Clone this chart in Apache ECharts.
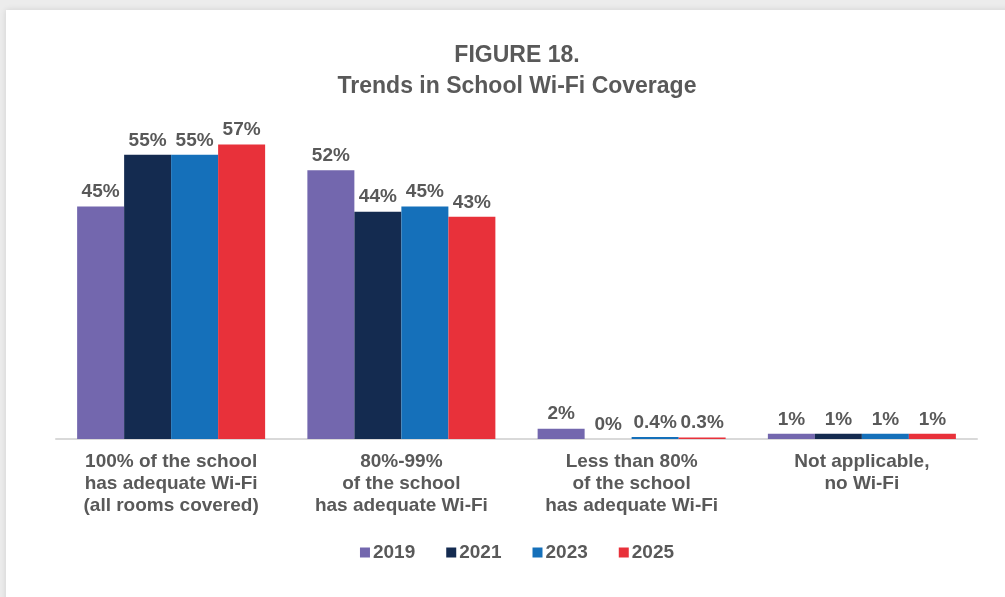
<!DOCTYPE html>
<html>
<head>
<meta charset="utf-8">
<script src="https://cdn.jsdelivr.net/npm/echarts@6/dist/echarts.min.js"></script>
<style>
  html, body { margin: 0; padding: 0; width: 1005px; height: 597px; overflow: hidden; background: #ececec; }
  .card { position: absolute; left: 6px; top: 10px; width: 1100px; height: 700px; background: #fff; box-shadow: 0 0 6px rgba(0,0,0,0.12); }
  #chart { position: absolute; left: 6px; top: 0; width: 1022px; height: 597px; }
</style>
</head>
<body>
<div class="card"></div>
<div id="chart"></div>
<script>
// categories and series values (percent)
var categories = [
  '100% of the school\nhas adequate Wi-Fi\n(all rooms covered)',
  '80%-99%\nof the school\nhas adequate Wi-Fi',
  'Less than 80%\nof the school\nhas adequate Wi-Fi',
  'Not applicable,\nno Wi-Fi'
];
var years = ['2019', '2021', '2023', '2025'];
var v2019 = [45, 52, 2, 1];
var v2021 = [55, 44, 0, 1];
var v2023 = [55, 45, 0.4, 1];
var v2025 = [57, 43, 0.3, 1];
var colors = ['#7367ae', '#142b50', '#1570ba', '#e8313a'];

var txt = '#595959';
var font = 'Liberation Sans, Arial, sans-serif';

function makeSeries(name, vals, color) {
  return {
    name: name,
    type: 'bar',
    data: vals,
    barWidth: 47,
    barGap: '0%',
    itemStyle: { color: color },
    label: {
      show: true,
      position: 'top',
      distance: 5,
      color: txt,
      fontFamily: font,
      fontSize: 19,
      fontWeight: 'bold',
      formatter: function (p) { return p.value + '%'; }
    }
  };
}

var myChart = echarts.init(document.getElementById('chart'));
var option = {
  animation: false,
  textStyle: { fontFamily: font },
  title: {
    text: 'FIGURE 18.\nTrends in School Wi-Fi Coverage',
    left: 'center',
    top: 40,
    padding: 0,
    textStyle: { color: txt, fontSize: 23, fontWeight: 'bold', lineHeight: 31, fontFamily: font }
  },
  legend: {
    data: years,
    left: 'center',
    top: 538,
    icon: 'rect',
    itemWidth: 10,
    itemHeight: 10,
    itemGap: 31,
    textStyle: { color: txt, fontSize: 19, fontWeight: 'bold', fontFamily: font, padding: [0, 0, 0, -2] }
  },
  grid: { left: 50, right: 51, top: 129, bottom: 158, containLabel: false },
  xAxis: {
    type: 'category',
    data: categories,
    axisLine: { lineStyle: { color: '#d9d9d9', width: 2 } },
    axisTick: { show: false },
    axisLabel: {
      color: txt,
      fontSize: 19,
      fontWeight: 'bold',
      lineHeight: 22,
      margin: 12,
      interval: 0,
      fontFamily: font
    }
  },
  yAxis: {
    type: 'value',
    min: 0,
    max: 60,
    show: false,
    splitLine: { show: false }
  },
  series: [
    makeSeries(years[0], v2019, colors[0]),
    makeSeries(years[1], v2021, colors[1]),
    makeSeries(years[2], v2023, colors[2]),
    makeSeries(years[3], v2025, colors[3])
  ]
};
myChart.setOption(option);
window.onresize = myChart.resize;
</script>
</body>
</html>
